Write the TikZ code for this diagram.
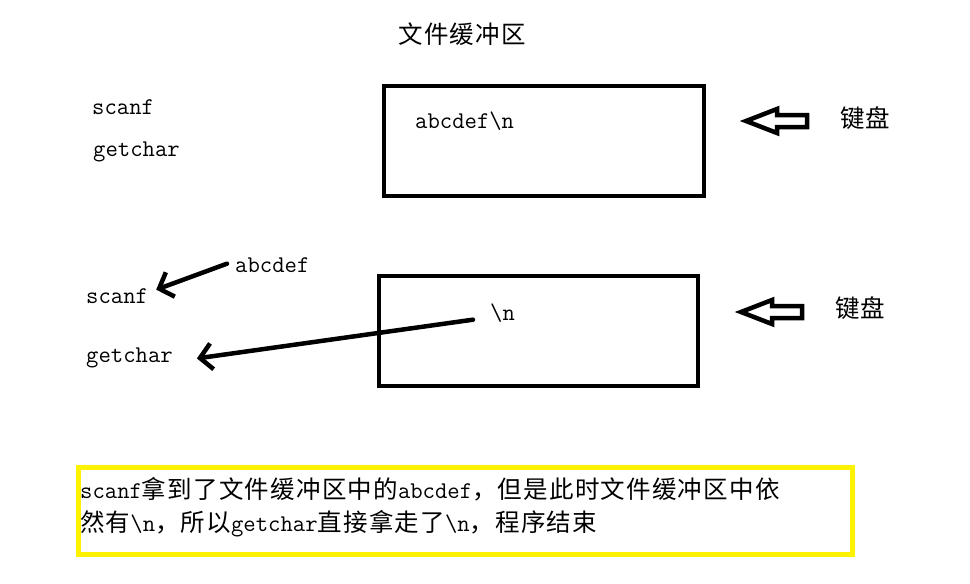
\documentclass[tikz,border=0pt]{standalone}
\usepackage{fontspec}
\newfontfamily\cjk[LetterSpace=5]{Noto Sans CJK SC}
\usetikzlibrary{arrows.meta}

\newcommand{\zh}[1]{{\cjk\fontsize{24.5}{33}\selectfont #1}}
\newcommand{\bsl}{\textbackslash}

\begin{document}
\begin{tikzpicture}[x=1pt,y=-1pt]
  \tikzset{
    txt/.style={font=\ttfamily\fontsize{24}{33}\selectfont, inner sep=0pt, anchor=base west},
    zhtxt/.style={font=\cjk\fontsize{24.5}{33}\selectfont, inner sep=0pt},
    bufbox/.style={draw, line width=4.5pt, inner sep=0pt, minimum height=110pt},
    feed/.style={line width=4.5pt, line cap=round, -{Straight Barb[length=12pt,width=26pt]}},
    pics/keyarrow/.style={code={
      \draw[line width=4.5pt] (0,0) -- (31,-12) -- (31,-6) -- (61,-6)
        -- (61,6) -- (31,6) -- (31,12) -- cycle;}}
  }
  \useasboundingbox (0,0) rectangle (970,584);

  % title
  \node[zhtxt] (title) at (462,34) {文件缓冲区};

  % first state
  \node[txt] (scanfA) at (92,114) {scanf};
  \node[txt] (getcharA) at (93,156) {getchar};
  \node[bufbox, minimum width=320pt] (bufA) at (544,141) {};
  \node[txt] (dataA) at (415,128) {abcdef\bsl n};
  \pic at (746,121) {keyarrow};
  \node[zhtxt, anchor=west] (keyA) at (840,118) {键盘};

  % second state
  \node[txt] (abcB) at (235,272) {abcdef};
  \node[txt] (scanfB) at (86,303) {scanf};
  \node[txt] (getcharB) at (86,362) {getchar};
  \node[bufbox, minimum width=319pt] (bufB) at (538.5,331) {};
  \node[txt] (nlB) at (490,320) {\bsl n};
  \pic at (741,312) {keyarrow};
  \node[zhtxt, anchor=west] (keyB) at (835,308) {键盘};

  \draw[feed] ([xshift=-8pt,yshift=1pt]abcB.west) -- ([xshift=8pt,yshift=6pt]scanfB.east);
  \draw[feed] ([xshift=-17pt,yshift=-7pt]nlB.west) -- ([xshift=24pt,yshift=-1pt]getcharB.east);

  % note
  \node[draw=yellow, line width=5pt, inner sep=0pt, minimum width=774pt,
    minimum height=87pt] (noteBox) at (465.5,511) {};
  \node[txt] (noteA) at (80,498)
    {scanf\zh{拿到了文件缓冲区中的}abcdef\zh{，但是此时文件缓冲区中依}};
  \node[txt] (noteB) at (80,531)
    {\zh{然有}\bsl n\zh{，所以}getchar\zh{直接拿走了}\bsl n\zh{，程序结束}};
\end{tikzpicture}
\end{document}
